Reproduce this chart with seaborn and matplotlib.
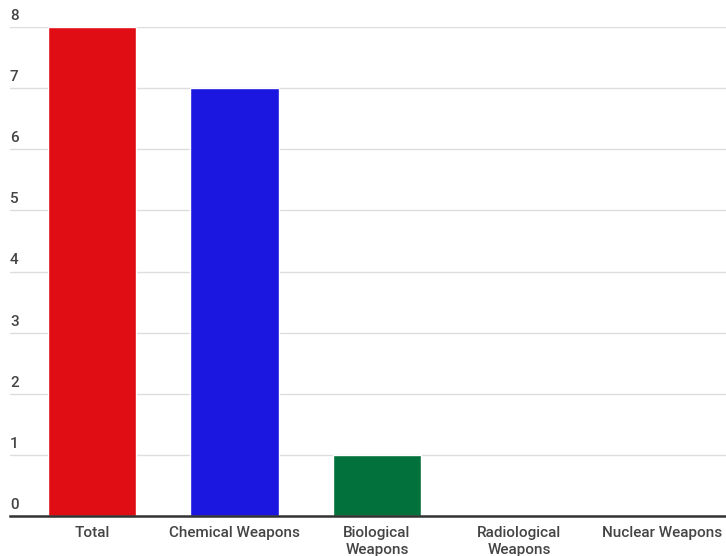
import matplotlib
matplotlib.use("Agg")
import matplotlib.pyplot as plt
import matplotlib.transforms as mtransforms
import seaborn as sns
import pandas as pd

categories = ["Total", "Chemical Weapons", "Biological\nWeapons", "Radiological\nWeapons", "Nuclear Weapons"]
values = [8, 7, 1, 0, 0]
colors = ["#E00D15", "#1B17E0", "#03713B", "#888888", "#888888"]
yticks = [0, 1, 2, 3, 4, 5, 6, 7, 8]

sns.set_theme(style="white")
plt.rcParams['font.family'] = ['Roboto', 'DejaVu Sans']

df = pd.DataFrame({"cat": categories, "val": values})

fig = plt.figure(figsize=(7.26, 5.56), dpi=100)
ax = fig.add_axes([10/726, 1 - 516/556, 716/726, (516 - 27)/556])

sns.barplot(data=df, x="cat", y="val", hue="cat", palette=colors, legend=False,
            width=0.62, saturation=1, ax=ax, zorder=3)

ax.set_xlim(-0.575, 4.45)
ax.set_ylim(0, 8)
ax.set_yticks(yticks)
ax.set_yticklabels([str(t) for t in yticks])
ax.set_xlabel("")
ax.set_ylabel("")

for s in ["top", "right", "left"]:
    ax.spines[s].set_visible(False)
ax.spines["bottom"].set_color("#333333")
ax.spines["bottom"].set_linewidth(1.8)
ax.spines["bottom"].set_zorder(4)

ax.yaxis.grid(True, color="#DDDDDD", linewidth=1, zorder=0)
ax.set_axisbelow(True)

ax.tick_params(axis="y", length=0, labelsize=11, labelcolor="#444444", pad=0)
ax.tick_params(axis="x", length=0, labelsize=11, labelcolor="#444444", pad=7)
for lbl in ax.get_xticklabels():
    lbl.set_fontweight("medium")
    lbl.set_linespacing(1.3)

offset = mtransforms.ScaledTranslation(0, 4/100, fig.dpi_scale_trans)
for lbl in ax.get_yticklabels():
    lbl.set_fontweight("medium")
    lbl.set_horizontalalignment("left")
    lbl.set_verticalalignment("bottom")
    lbl.set_transform(lbl.get_transform() + offset)

fig.savefig("out.png", dpi=100)
